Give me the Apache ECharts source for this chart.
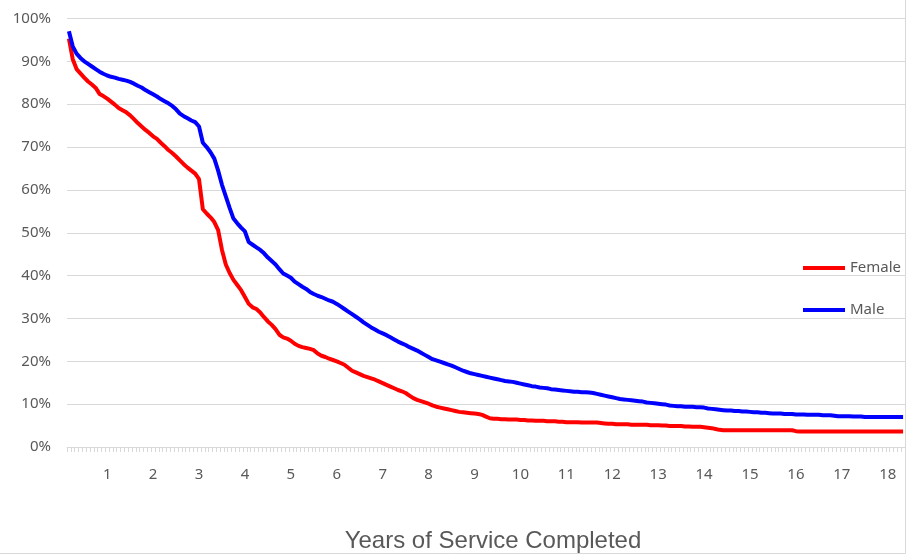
<!DOCTYPE html>
<html>
<head>
<meta charset="utf-8">
<script src="https://cdn.jsdelivr.net/npm/echarts@6/dist/echarts.min.js"></script>
<style>html,body{margin:0;padding:0;background:#fff;}#c{width:907px;height:556px;}</style>
</head>
<body>
<div id="c"></div>
<script>
// months of service (category axis), first month = 2, last = 220
var firstMonth = 2, lastMonth = 220;
var months = [];
for (var m = firstMonth; m <= lastMonth; m++) months.push(m);

var female = [
95.3, 90.5, 88.2, 87.2, 86.2, 85.3, 84.6, 83.8, 82.4, 81.9,
81.3, 80.6, 79.9, 79.1, 78.6, 78.1, 77.4, 76.5, 75.6, 74.8,
74.0, 73.3, 72.5, 71.9, 71.0, 70.2, 69.3, 68.6, 67.8, 66.9,
66.0, 65.2, 64.5, 63.8, 62.5, 55.5, 54.5, 53.6, 52.5, 50.6,
46.0, 42.6, 40.6, 39.0, 37.8, 36.6, 35.0, 33.4, 32.6, 32.2,
31.4, 30.3, 29.3, 28.5, 27.5, 26.2, 25.6, 25.3, 24.8, 24.1,
23.6, 23.3, 23.1, 22.9, 22.6, 21.8, 21.3, 21.0, 20.6, 20.3,
20.0, 19.6, 19.2, 18.5, 17.8, 17.4, 17.0, 16.6, 16.3, 16.0,
15.7, 15.3, 14.9, 14.5, 14.1, 13.7, 13.3, 13.0, 12.6, 12.0,
11.4, 11.0, 10.7, 10.4, 10.1, 9.7, 9.4, 9.2, 9.0, 8.8,
8.6, 8.4, 8.2, 8.1, 8.0, 7.9, 7.8, 7.7, 7.5, 7.1,
6.7, 6.6, 6.6, 6.5, 6.5, 6.4, 6.4, 6.4, 6.3, 6.3,
6.2, 6.2, 6.1, 6.1, 6.1, 6.0, 6.0, 6.0, 5.9, 5.9,
5.8, 5.8, 5.8, 5.8, 5.7, 5.7, 5.7, 5.7, 5.7, 5.6,
5.5, 5.4, 5.4, 5.3, 5.3, 5.3, 5.3, 5.2, 5.2, 5.2,
5.2, 5.2, 5.1, 5.1, 5.1, 5.0, 5.0, 4.9, 4.9, 4.9,
4.9, 4.8, 4.8, 4.7, 4.7, 4.7, 4.6, 4.5, 4.4, 4.2,
4.0, 3.9, 3.9, 3.9, 3.9, 3.9, 3.9, 3.9, 3.9, 3.9,
3.9, 3.9, 3.9, 3.9, 3.9, 3.9, 3.9, 3.9, 3.9, 3.9,
3.7, 3.6, 3.6, 3.6, 3.6, 3.6, 3.6, 3.6, 3.6, 3.6,
3.6, 3.6, 3.6, 3.6, 3.6, 3.6, 3.6, 3.6, 3.6, 3.6,
3.6, 3.6, 3.6, 3.6, 3.6, 3.6, 3.6, 3.6, 3.6
];

var male = [
97.0, 93.5, 91.8, 90.8, 90.0, 89.4, 88.8, 88.2, 87.6, 87.1,
86.7, 86.4, 86.2, 85.9, 85.7, 85.5, 85.2, 84.8, 84.3, 83.9,
83.3, 82.8, 82.3, 81.8, 81.2, 80.7, 80.2, 79.6, 78.8, 77.8,
77.2, 76.7, 76.2, 75.8, 74.8, 71.0, 70.0, 68.8, 67.3, 64.5,
61.2, 58.5, 55.8, 53.3, 52.2, 51.2, 50.3, 47.8, 47.2, 46.6,
46.0, 45.2, 44.2, 43.4, 42.6, 41.5, 40.5, 40.0, 39.5, 38.6,
38.0, 37.4, 36.9, 36.2, 35.7, 35.3, 35.0, 34.6, 34.2, 33.9,
33.4, 32.8, 32.2, 31.6, 31.0, 30.4, 29.8, 29.1, 28.5, 27.9,
27.4, 26.9, 26.5, 26.1, 25.6, 25.1, 24.6, 24.2, 23.8, 23.3,
22.9, 22.5, 22.0, 21.5, 21.0, 20.5, 20.2, 19.9, 19.6, 19.3,
19.0, 18.6, 18.2, 17.8, 17.5, 17.2, 17.0, 16.8, 16.6, 16.4,
16.2, 16.0, 15.8, 15.6, 15.4, 15.3, 15.2, 15.0, 14.8, 14.6,
14.4, 14.2, 14.1, 13.9, 13.8, 13.7, 13.5, 13.4, 13.3, 13.2,
13.1, 13.0, 12.9, 12.9, 12.8, 12.8, 12.7, 12.6, 12.4, 12.2,
12.0, 11.8, 11.6, 11.4, 11.2, 11.1, 11.0, 10.9, 10.8, 10.7,
10.6, 10.4, 10.3, 10.2, 10.1, 10.0, 9.9, 9.7, 9.6, 9.5,
9.5, 9.4, 9.4, 9.4, 9.3, 9.3, 9.2, 9.0, 8.9, 8.8,
8.7, 8.6, 8.5, 8.5, 8.4, 8.4, 8.3, 8.3, 8.2, 8.1,
8.1, 8.0, 8.0, 7.9, 7.8, 7.8, 7.8, 7.7, 7.7, 7.7,
7.6, 7.6, 7.6, 7.5, 7.5, 7.5, 7.5, 7.4, 7.4, 7.4,
7.3, 7.2, 7.2, 7.2, 7.2, 7.1, 7.1, 7.1, 7.0, 7.0,
7.0, 7.0, 7.0, 7.0, 7.0, 7.0, 7.0, 7.0, 7.0
];

var seriesNames = ['Female', 'Male'];
var xTitle = 'Years of Service Completed';

var chart = echarts.init(document.getElementById('c'), null, {renderer: 'canvas'});
var textColor = '#595959';
var font = 'Noto Sans';
chart.setOption({
  animation: false,
  backgroundColor: '#ffffff',
  grid: {left: 67, right: 2, top: 18.5, bottom: 109, containLabel: false, outerBoundsMode: 'none'},
  legend: {
    orient: 'vertical',
    left: 803,
    top: 260.5,
    padding: 0,
    itemWidth: 42,
    itemHeight: 4,
    itemGap: 27,
    icon: 'rect',
    textStyle: {color: textColor, fontFamily: font, fontSize: 15},
    data: seriesNames
  },
  xAxis: {
    type: 'category',
    data: months,
    boundaryGap: true,
    name: xTitle,
    nameLocation: 'middle',
    nameGap: 82,
    nameTextStyle: {color: textColor, fontFamily: 'Liberation Sans', fontSize: 24, padding: [0, 0, 0, 14]},
    axisLine: {lineStyle: {color: '#d9d9d9', width: 1}},
    axisTick: {show: true, interval: 0, length: 5, lineStyle: {color: '#d9d9d9'}},
    axisLabel: {
      interval: function (idx, val) { return Number(val) % 12 === 0; },
      formatter: function (val) { return String(Number(val) / 12); },
      color: textColor, fontFamily: font, fontSize: 15, margin: 20
    },
    splitLine: {show: false}
  },
  yAxis: {
    type: 'value',
    min: 0, max: 100, interval: 10,
    axisLine: {show: false},
    axisTick: {show: false},
    axisLabel: {formatter: '{value}%', color: textColor, fontFamily: font, fontSize: 15, margin: 16},
    splitLine: {lineStyle: {color: '#d9d9d9', width: 1}}
  },
  series: [
    {name: seriesNames[0], type: 'line', data: female, showSymbol: false, symbol: 'none',
     lineStyle: {color: '#ff0000', width: 4}, itemStyle: {color: '#ff0000'}},
    {name: seriesNames[1], type: 'line', data: male, showSymbol: false, symbol: 'none',
     lineStyle: {color: '#0000ff', width: 4}, itemStyle: {color: '#0000ff'}}
  ],
  graphic: [
    {type: 'line', shape: {x1: 905.5, y1: 0, x2: 905.5, y2: 553.5}, style: {stroke: '#d9d9d9', lineWidth: 1}, silent: true},
    {type: 'line', shape: {x1: 0, y1: 553.5, x2: 905.5, y2: 553.5}, style: {stroke: '#d9d9d9', lineWidth: 1}, silent: true}
  ]
});
</script>
</body>
</html>
